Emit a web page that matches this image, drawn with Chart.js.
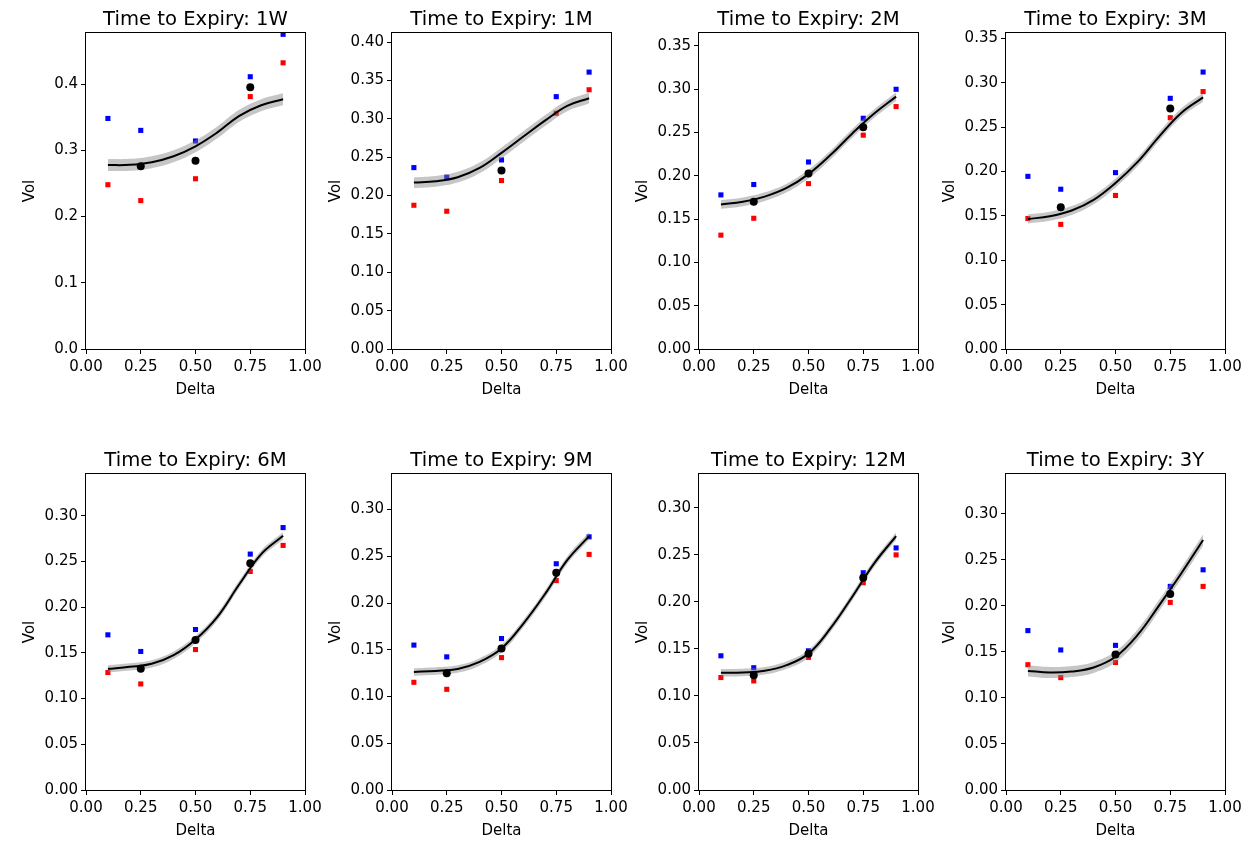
<!DOCTYPE html>
<html><head><meta charset="utf-8">
<script src="https://cdn.jsdelivr.net/npm/chart.js@4/dist/chart.umd.min.js"></script>
<style>
html,body{margin:0;padding:0;background:#fff;}
#fig{position:relative;width:1257px;height:846px;overflow:hidden;background:#fff;}
#fig canvas{position:absolute;}
</style></head><body><div id="fig"></div>
<script>
// ---- data ----
const expiries = ['1W','1M','2M','3M','6M','9M','12M','3Y'];
const quoteDeltas = [0.1, 0.25, 0.5, 0.75, 0.9];
const askVols = [
  [0.348, 0.330, 0.314, 0.411, 0.475],
  [0.2365, 0.224, 0.2465, 0.329, 0.361],
  [0.178, 0.190, 0.216, 0.2665, 0.300],
  [0.1945, 0.180, 0.1987, 0.2824, 0.312],
  [0.1697, 0.1515, 0.1755, 0.258, 0.287],
  [0.155, 0.1424, 0.162, 0.242, 0.2708],
  [0.1427, 0.130, 0.148, 0.231, 0.2574],
  [0.173, 0.152, 0.157, 0.221, 0.239]
];
const bidVols = [
  [0.248, 0.224, 0.257, 0.381, 0.432],
  [0.1874, 0.1796, 0.2196, 0.3074, 0.338],
  [0.1315, 0.151, 0.191, 0.247, 0.280],
  [0.147, 0.1404, 0.173, 0.2606, 0.290],
  [0.1285, 0.116, 0.1536, 0.239, 0.2675],
  [0.1152, 0.1077, 0.1416, 0.224, 0.252],
  [0.1196, 0.116, 0.141, 0.2204, 0.250],
  [0.136, 0.122, 0.1384, 0.2036, 0.221]
];
const midVols = [
  [null, 0.276, 0.284, 0.395, null],
  [null, null, 0.2326, null, null],
  [null, 0.170, 0.2027, 0.256, null],
  [null, 0.1596, null, 0.271, null],
  [null, 0.1325, 0.164, 0.248, null],
  [null, 0.1249, 0.1513, 0.2323, null],
  [null, 0.122, 0.145, 0.2258, null],
  [null, null, 0.147, 0.2127, null]
];
const fitDeltas = [0.1, 0.2, 0.3, 0.4, 0.5, 0.6, 0.7, 0.8, 0.9];
const fitVols = [
  [0.2776, 0.278, 0.282, 0.291, 0.306, 0.327, 0.352, 0.368, 0.377],
  [0.217, 0.2187, 0.224, 0.236, 0.2557, 0.277, 0.298, 0.317, 0.327],
  [0.167, 0.170, 0.176, 0.186, 0.202, 0.224, 0.249, 0.272, 0.2915],
  [0.1465, 0.1495, 0.156, 0.168, 0.187, 0.2105, 0.2396, 0.266, 0.2835],
  [0.1325, 0.1347, 0.138, 0.1474, 0.1646, 0.1894, 0.225, 0.258, 0.278],
  [0.1263, 0.1274, 0.1295, 0.137, 0.1513, 0.178, 0.210, 0.2458, 0.2715],
  [0.1246, 0.125, 0.1267, 0.1328, 0.145, 0.1718, 0.2055, 0.241, 0.270],
  [0.1293, 0.1275, 0.1286, 0.133, 0.1446, 0.168, 0.2007, 0.235, 0.2714]
];
const fitBandHalfWidth = [0.009, 0.007, 0.005, 0.005, 0.004, 0.004, 0.004, 0.006];
const yAxisMax = [0.477, 0.412, 0.365, 0.356, 0.3456, 0.338, 0.336, 0.343];
const yTickLabels = [
  ['0.0','0.1','0.2','0.3','0.4'],
  ['0.00','0.05','0.10','0.15','0.20','0.25','0.30','0.35','0.40'],
  ['0.00','0.05','0.10','0.15','0.20','0.25','0.30','0.35'],
  ['0.00','0.05','0.10','0.15','0.20','0.25','0.30','0.35'],
  ['0.00','0.05','0.10','0.15','0.20','0.25','0.30'],
  ['0.00','0.05','0.10','0.15','0.20','0.25','0.30'],
  ['0.00','0.05','0.10','0.15','0.20','0.25','0.30'],
  ['0.00','0.05','0.10','0.15','0.20','0.25','0.30']
];
const xTickLabels = ['0.00','0.25','0.50','0.75','1.00'];

// ---- layout ----
const FONT = "'DejaVu Sans', sans-serif";
Chart.defaults.font.family = FONT;
Chart.defaults.font.size = 15;
Chart.defaults.color = '#000';

const plotLefts = [86, 392, 699, 1006];
const plotTops = [33, 474];
const plotW = 219, plotH = 316;
const yAxisW = 65, xAxisH = 50, padTop = 34, padRight = 25;

const panelTitle = {
  id: 'panelTitle',
  afterDraw(chart, args, opts) {
    const {ctx, chartArea: a} = chart;
    ctx.save();
    ctx.font = '19.6px ' + FONT;
    ctx.fillStyle = '#000';
    ctx.textAlign = 'center';
    ctx.textBaseline = 'alphabetic';
    ctx.fillText(opts.text, (a.left + a.right) / 2, a.top - 8.5);
    ctx.restore();
  }
};
const frame = {
  id: 'frame',
  afterDatasetsDraw(chart) {
    const {ctx, chartArea: a} = chart;
    ctx.save();
    ctx.strokeStyle = '#000';
    ctx.lineWidth = 1;
    ctx.strokeRect(a.left - 0.5, a.top - 0.5, a.right - a.left + 1, a.bottom - a.top + 1);
    ctx.restore();
  }
};

const fig = document.getElementById('fig');
expiries.forEach((exp, i) => {
  const col = i % 4, row = Math.floor(i / 4);
  const cv = document.createElement('canvas');
  const W = yAxisW + plotW + padRight, H = padTop + plotH + xAxisH;
  cv.width = W; cv.height = H;
  cv.style.width = W + 'px'; cv.style.height = H + 'px';
  cv.style.left = (plotLefts[col] - yAxisW) + 'px';
  cv.style.top = (plotTops[row] - padTop) + 'px';
  fig.appendChild(cv);

  const pts = (xs, ys) => xs.map((x, k) => ({x: x, y: ys[k]})).filter(p => p.y !== null);
  const hw = fitBandHalfWidth[i];
  const upper = fitVols[i].map(v => v + hw);
  const lower = fitVols[i].map(v => v - hw);
  const yTicks = yTickLabels[i].map(parseFloat);
  const xTicks = xTickLabels.map(parseFloat);

  new Chart(cv, {
    type: 'scatter',
    data: {
      datasets: [
        {label: 'mid', data: pts(quoteDeltas, midVols[i]), order: 0,
         pointStyle: 'circle', pointRadius: 4, backgroundColor: '#000', borderWidth: 0, clip: 0},
        {label: 'fit', data: pts(fitDeltas, fitVols[i]), order: 1, showLine: true,
         borderColor: '#000', borderWidth: 2, pointRadius: 0, tension: 0.4, fill: false, clip: 0},
        {label: 'band upper', data: pts(fitDeltas, upper), order: 2, showLine: true,
         borderColor: 'rgba(0,0,0,0)', borderWidth: 0, pointRadius: 0, tension: 0.4,
         fill: '+1', backgroundColor: 'rgba(128,128,128,0.45)', clip: 0},
        {label: 'band lower', data: pts(fitDeltas, lower), order: 2, showLine: true,
         borderColor: 'rgba(0,0,0,0)', borderWidth: 0, pointRadius: 0, tension: 0.4, fill: false, clip: 0},
        {label: 'ask', data: pts(quoteDeltas, askVols[i]), order: 3,
         pointStyle: 'rect', pointRadius: 3.6, backgroundColor: '#0000ff', borderWidth: 0, clip: 0},
        {label: 'bid', data: pts(quoteDeltas, bidVols[i]), order: 3,
         pointStyle: 'rect', pointRadius: 3.6, backgroundColor: '#ff0000', borderWidth: 0, clip: 0}
      ]
    },
    options: {
      responsive: false, animation: false, devicePixelRatio: 1,
      layout: {padding: {top: padTop, right: padRight, left: 0, bottom: 0}},
      plugins: {legend: {display: false}, tooltip: {enabled: false}, panelTitle: {text: 'Time to Expiry: ' + exp}},
      scales: {
        x: {
          type: 'linear', min: 0, max: 1,
          afterBuildTicks: s => { s.ticks = xTicks.map(v => ({value: v})); },
          afterFit: s => { s.height = xAxisH; },
          ticks: {padding: 4, maxRotation: 0, autoSkip: false, callback: (v, k) => xTickLabels[k]},
          grid: {display: true, drawOnChartArea: false, drawTicks: true, tickLength: 5, color: '#000', lineWidth: 1},
          border: {display: false},
          title: {display: true, text: 'Delta', padding: 0}
        },
        y: {
          type: 'linear', min: 0, max: yAxisMax[i],
          afterBuildTicks: s => { s.ticks = yTicks.map(v => ({value: v})); },
          afterFit: s => { s.width = yAxisW; },
          ticks: {padding: 3, autoSkip: false, callback: (v, k) => yTickLabels[i][k]},
          grid: {display: true, drawOnChartArea: false, drawTicks: true, tickLength: 5, color: '#000', lineWidth: 1},
          border: {display: false},
          title: {display: true, text: 'Vol', padding: 0}
        }
      }
    },
    plugins: [panelTitle, frame]
  });
});
</script>
</body></html>
